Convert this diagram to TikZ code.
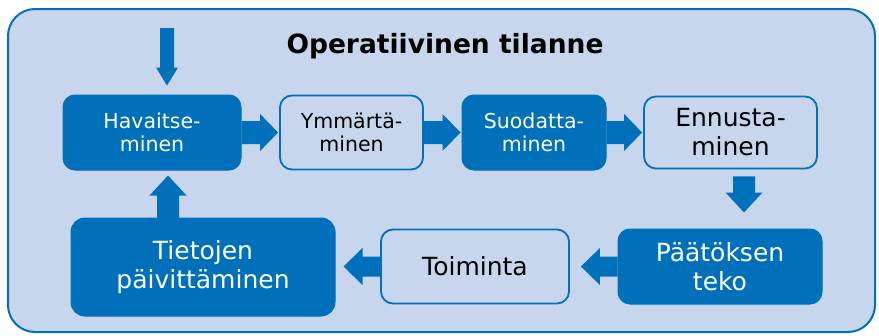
\documentclass[tikz,border=0pt]{standalone}
\usepackage{fontspec}
\setmainfont{DejaVu Sans}
\usetikzlibrary{calc}
\definecolor{dblue}{RGB}{0,112,186}
\definecolor{bg}{RGB}{200,214,237}
\tikzset{
  arr/.style={fill=dblue},
  darkbox/.style={fill=dblue, draw=dblue, line width=1pt, text=white, rounded corners=12pt, align=center, inner sep=0pt},
  lightbox/.style={fill=bg, draw=dblue, line width=1.8pt, text=black, rounded corners=12pt, align=center, inner sep=0pt},
  smalltxt/.style={font=\fontsize{20.5}{23.5}\selectfont},
  bigtxt/.style={font=\fontsize{25}{29}\selectfont},
}
% block arrows: start, tip, shaft half, head half, head length
\newcommand\arrR[5]{\fill[arr] let \p1=(#1), \p2=(#2) in (\x1,\y1-#3) -- (\x2-#5,\y1-#3) -- (\x2-#5,\y1-#4) -- (\x2,\y1) -- (\x2-#5,\y1+#4) -- (\x2-#5,\y1+#3) -- (\x1,\y1+#3) -- cycle;}
\newcommand\arrL[5]{\fill[arr] let \p1=(#1), \p2=(#2) in (\x1,\y1-#3) -- (\x2+#5,\y1-#3) -- (\x2+#5,\y1-#4) -- (\x2,\y1) -- (\x2+#5,\y1+#4) -- (\x2+#5,\y1+#3) -- (\x1,\y1+#3) -- cycle;}
\newcommand\arrD[5]{\fill[arr] let \p1=(#1), \p2=(#2) in (\x1-#3,\y1) -- (\x1-#3,\y2+#5) -- (\x1-#4,\y2+#5) -- (\x1,\y2) -- (\x1+#4,\y2+#5) -- (\x1+#3,\y2+#5) -- (\x1+#3,\y1) -- cycle;}
\newcommand\arrU[5]{\fill[arr] let \p1=(#1), \p2=(#2) in (\x1-#3,\y1) -- (\x1-#3,\y2-#5) -- (\x1-#4,\y2-#5) -- (\x1,\y2) -- (\x1+#4,\y2-#5) -- (\x1+#3,\y2-#5) -- (\x1+#3,\y1) -- cycle;}
\begin{document}
\begin{tikzpicture}[x=1pt,y=1pt]
\useasboundingbox (0,0) rectangle (879,-335);
\draw[draw=dblue, fill=bg, line width=2pt, rounded corners=27pt] (8,-9) rectangle (875,-332);
\node[anchor=base, font=\fontsize{26.5}{30}\selectfont\bfseries] (title) at (445,-53) {Operatiivinen tilanne};

\node[darkbox, smalltxt, minimum width=178pt, minimum height=75pt] (H) at (152,-132.5) {Havaitse-\\minen};
\node[lightbox, smalltxt, minimum width=143pt, minimum height=74pt] (Y) at (351.5,-132.5) {Ymmärtä-\\minen};
\node[darkbox, smalltxt, minimum width=144pt, minimum height=75pt] (S) at (534,-132.5) {Suodatta-\\minen};
\node[lightbox, bigtxt, minimum width=173pt, minimum height=72pt] (E) at (730.5,-132.5) {Ennusta-\\minen};
\node[darkbox, bigtxt, minimum width=204pt, minimum height=75pt] (P) at (720,-266.5) {Päätöksen\\teko};
\node[lightbox, bigtxt, minimum width=188pt, minimum height=74pt] (T) at (475,-266.5) {Toiminta};
\node[darkbox, bigtxt, minimum width=264pt, minimum height=98pt, rounded corners=14pt] (U) at (203,-267) {Tietojen\\päivittäminen};

\coordinate (in) at (167,-28);
\arrD{in}{$(H.north)+(0,9)$}{7}{11}{18}
\arrR{H.east}{$(Y.west)+(-1,0)$}{11.5}{18.5}{18}
\arrR{Y.east}{$(S.west)+(-1,0)$}{11.5}{18.5}{18}
\arrR{S.east}{$(E.west)+(-1,0)$}{11.5}{18.5}{18}
\arrD{$(E.south)+(13.5,-7)$}{$(P.north)+(0,16)$}{11}{18.5}{20}
\arrL{P.west}{$(T.east)+(11,0)$}{10}{18.5}{19}
\arrL{T.west}{$(U.east)+(8,0)$}{10}{18.5}{19}
\arrU{$(U.north)+(-35,-5)$}{$(H.south)+(0,-5)$}{11}{18.5}{20}
\end{tikzpicture}
\end{document}
